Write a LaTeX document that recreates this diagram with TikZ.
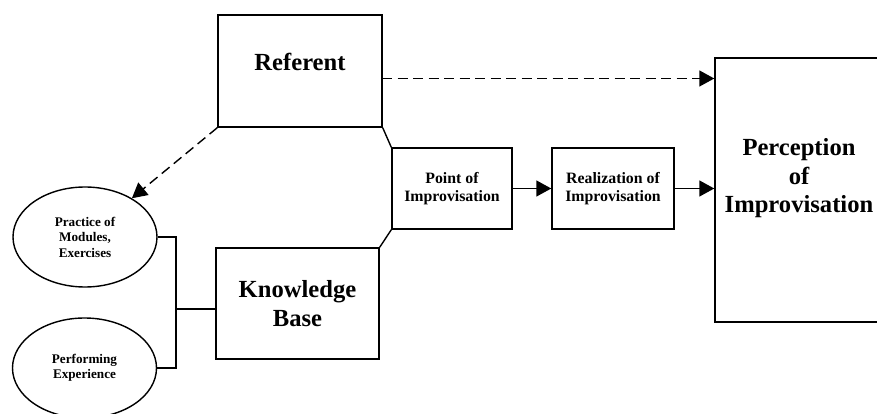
\documentclass[tikz,border=0pt]{standalone}
\usepackage{fontspec}
\setmainfont{Liberation Serif}
\usetikzlibrary{arrows.meta,shapes.geometric}

\begin{document}
\begin{tikzpicture}[>={Triangle[length=3mm,width=3.2mm]}, line width=0.8pt,
    box/.style={draw, rectangle, inner sep=0pt},
    oval/.style={draw, ellipse, inner sep=0pt, minimum width=2.88cm, minimum height=2cm,
        align=center, font=\fontsize{7.5}{8.8}\selectfont\bfseries},
    bigtxt/.style={align=center, font=\fontsize{14}{16.2}\selectfont\bfseries},
    midtxt/.style={align=center, font=\fontsize{9}{10.2}\selectfont\bfseries},
    dashline/.style={dash pattern=on 2mm off 1.1mm}]
    \useasboundingbox (0,0) rectangle (17.54,8.28);
    %Các khối chính
    \node[box, minimum width=3.28cm, minimum height=2.24cm] (ref) at (6.00,6.86) {};
    \node[bigtxt] (reftxt) at (6.00,7.04) {Referent};
    \node[box, bigtxt, minimum width=3.26cm, minimum height=2.22cm] (know) at (5.95,2.21) {Knowledge\\Base};
    \node[box, midtxt, minimum width=2.40cm, minimum height=1.62cm] (point) at (9.04,4.51) {Point of\\Improvisation};
    \node[box, midtxt, minimum width=2.44cm, minimum height=1.62cm] (real) at (12.26,4.51) {Realization of\\Improvisation};
    \node[box, minimum width=3.30cm, minimum height=5.28cm] (perc) at (15.95,4.48) {};
    \node[bigtxt] (perctxt) at (15.98,4.71) {Perception\\of\\Improvisation};
    %Hai hình elip
    \node[oval] (prac) at (1.70,3.54) {Practice of\\Modules,\\Exercises};
    \node[oval] (perf) at (1.69,0.92) {Performing\\Experience};
    %Nối các khối
    \coordinate (join) at (3.52,2.10);
    \draw (prac.east) -| (join);
    \draw (perf.east) -| (join);
    \draw (join) -- (join -| know.west);
    \draw (ref.south east) -- (point.north west);
    \draw (point.south west) -- (know.north east);
    \draw[->] (point.east) -- (real.west);
    \draw[->] (real.east) -- (real.east -| perc.west);
    %Mũi tên nét đứt
    \coordinate (dashy) at (7.64,6.71);
    \draw[->, dashline] (dashy) -- (dashy -| perc.west);
    \draw[->, dashline] (ref.south west) -- (prac);
\end{tikzpicture}
\end{document}
